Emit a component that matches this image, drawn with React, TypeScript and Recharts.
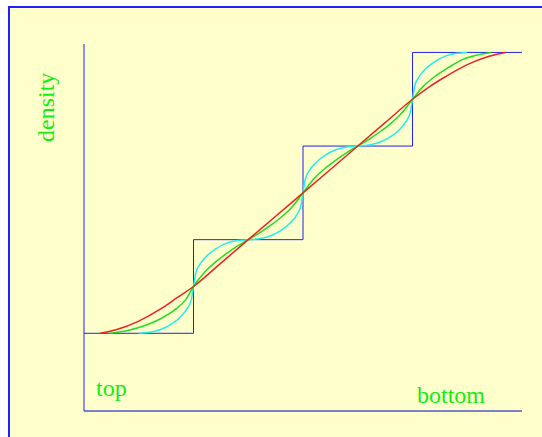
import { LineChart, Line, XAxis, YAxis } from 'recharts';

// staircase corners
const stepX = [0, 1, 2, 3, 4];
const stepY = [0, 1, 2, 3, 3];

// sharpest smoothing (cyan)
const cyanX = [0.5, 0.6, 0.7, 0.8, 0.88, 0.94, 0.98, 1, 1.02, 1.06, 1.12, 1.2, 1.3, 1.4, 1.5,
  1.6, 1.7, 1.8, 1.88, 1.94, 1.98, 2, 2.02, 2.06, 2.12, 2.2, 2.3, 2.4, 2.5,
  2.6, 2.7, 2.8, 2.88, 2.94, 2.98, 3, 3.02, 3.06, 3.12, 3.2, 3.3, 3.4, 3.5];
const cyanY = [0, 0.01, 0.04, 0.1, 0.175, 0.26, 0.36, 0.5, 0.64, 0.74, 0.825, 0.9, 0.96, 0.99, 1,
  1.01, 1.04, 1.1, 1.175, 1.26, 1.36, 1.5, 1.64, 1.74, 1.825, 1.9, 1.96, 1.99, 2,
  2.01, 2.04, 2.1, 2.175, 2.26, 2.36, 2.5, 2.64, 2.74, 2.825, 2.9, 2.96, 2.99, 3];

// medium smoothing (green)
const greenX = [0.24, 0.4, 0.55, 0.69, 0.84, 0.93, 1, 1.1, 1.2, 1.3, 1.4, 1.5,
  1.6, 1.7, 1.8, 1.9, 2, 2.1, 2.2, 2.3, 2.4, 2.5,
  2.6, 2.7, 2.8, 2.9, 3, 3.1, 3.2, 3.33, 3.45, 3.58, 3.72];
const greenY = [0, 0.03, 0.08, 0.15, 0.26, 0.36, 0.5, 0.65, 0.76, 0.85, 0.93, 1,
  1.07, 1.15, 1.24, 1.35, 1.5, 1.65, 1.76, 1.85, 1.93, 2,
  2.07, 2.15, 2.24, 2.35, 2.5, 2.64, 2.74, 2.84, 2.92, 2.97, 3];

// widest smoothing (red)
const redX = [0.15, 0.3, 0.5, 0.7, 0.85, 1, 1.25, 1.5, 1.75, 2, 2.25, 2.5, 2.75, 3, 3.15, 3.3, 3.5, 3.7, 3.85];
const redY = [0, 0.04, 0.13, 0.26, 0.38, 0.5, 0.75, 1, 1.25, 1.5, 1.75, 2, 2.25, 2.5, 2.63, 2.74, 2.87, 2.96, 3];

const toPoints = (xs: number[], ys: number[]) => xs.map((x, i) => ({ x, y: ys[i] }));

const stepData = toPoints(stepX, stepY);
const cyanData = toPoints(cyanX, cyanY);
const greenData = toPoints(greenX, greenY);
const redData = toPoints(redX, redY);

const labelFont = '"Liberation Serif", "Times New Roman", serif';

export default function App() {
  return (
    <div
      style={{
        position: 'fixed',
        left: 8,
        top: 6,
        width: 534,
        height: 431,
        boxSizing: 'border-box',
        background: '#ffffcc',
        borderLeft: '2px solid #2020ff',
        borderTop: '2px solid #2020ff',
      }}
    >
      <div style={{ position: 'fixed', left: 0, top: 0, width: 542, height: 437 }}>
        <LineChart width={542} height={437} margin={{ top: 44, right: 20, bottom: 25, left: 83 }}>
          <XAxis
            type="number"
            dataKey="x"
            domain={[0, 4]}
            allowDataOverflow
            height={1}
            tick={false}
            tickLine={false}
            axisLine={{ stroke: '#0000c0', strokeWidth: 1 }}
          />
          <YAxis
            type="number"
            dataKey="y"
            domain={[-0.83, 3.09]}
            allowDataOverflow
            width={1}
            tick={false}
            tickLine={false}
            axisLine={{ stroke: '#2020ff', strokeWidth: 1 }}
          />
          <Line data={stepData} dataKey="y" type="stepAfter" stroke="#2020f0" strokeWidth={1} dot={false} isAnimationActive={false} />
          <Line data={cyanData} dataKey="y" type="monotone" stroke="#22eeee" strokeWidth={1.5} dot={false} isAnimationActive={false} />
          <Line data={greenData} dataKey="y" type="monotone" stroke="#22dd22" strokeWidth={1.5} dot={false} isAnimationActive={false} />
          <Line data={redData} dataKey="y" type="monotone" stroke="#ee2020" strokeWidth={1.5} dot={false} isAnimationActive={false} />
        </LineChart>
        <svg width={542} height={437} style={{ position: 'absolute', left: 0, top: 0, pointerEvents: 'none' }}>
          <text x={0} y={0} transform="translate(54 142) rotate(-90)" fontSize={24} fill="#11ee11" fontFamily={labelFont}>
            density
          </text>
          <text x={96} y={396} fontSize={24} fill="#11ee11" fontFamily={labelFont}>
            top
          </text>
          <text x={417} y={403} fontSize={24} fill="#11ee11" fontFamily={labelFont}>
            bottom
          </text>
        </svg>
      </div>
    </div>
  );
}
